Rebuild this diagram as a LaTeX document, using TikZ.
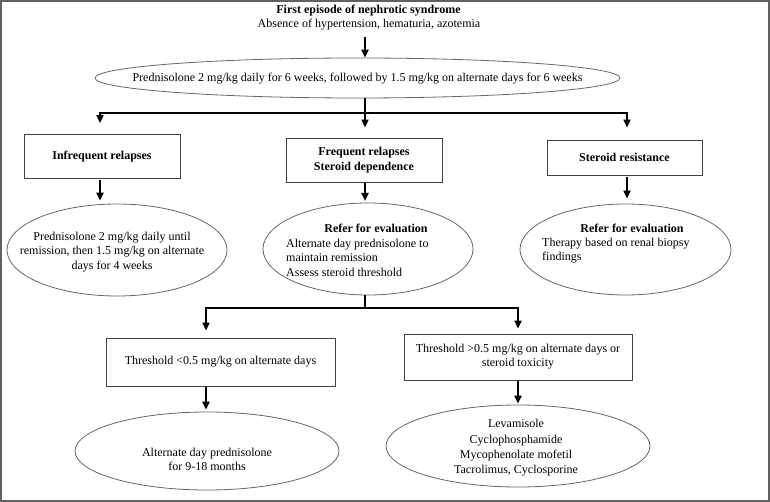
\documentclass[tikz,border=0pt]{standalone}
\usepackage{fontspec}
\setmainfont{Liberation Serif}
\usetikzlibrary{shapes.geometric,arrows.meta}
\begin{document}
\begin{tikzpicture}[x=1pt,y=-1pt,
  every node/.style={font=\fontsize{12}{14.6}\selectfont, inner sep=0pt},
  bold/.style={font=\bfseries\fontsize{12}{14.6}\selectfont},
  boxn/.style={draw=black!75, line width=0.9pt, rectangle, align=center},
  ell/.style={draw=black!60, line width=0.8pt, ellipse},
  conn/.style={line width=2pt, black},
  arr/.style={conn, -{Triangle[length=8pt,width=7pt]}}
]
\useasboundingbox (0,0) rectangle (770,502);
\draw[black!62, line width=2pt] (1,1) rectangle (769,501);

% column coordinates
\coordinate (colA) at (100,0);
\coordinate (colB) at (365,0);
\coordinate (colC) at (627,0);
\coordinate (colD) at (206,0);
\coordinate (colE) at (518,0);
\coordinate (j1) at (365,113);
\coordinate (j2) at (365,308);
\coordinate (a2s) at (365,183);
\coordinate (a2e) at (365,201);

% header
\node[bold] (t1) at (368.5,11) {First episode of nephrotic syndrome};
\node (t2) at (369,25) {Absence of hypertension, hematuria, azotemia};

% first ellipse
\node[ell, minimum width=525, minimum height=40] (e1) at (357.5,78) {};
\node (e1t) at (357.5,79) {Prednisolone 2 mg/kg daily for 6 weeks, followed by 1.5 mg/kg on alternate days for 6 weeks};

% boxes row 1
\node[boxn, bold, minimum width=156, minimum height=44] (b1) at (102,156.5) {Infrequent relapses};
\node[boxn, bold, minimum width=156, minimum height=44] (b2) at (364,160) {Frequent relapses\\Steroid dependence};
\node[boxn, bold, minimum width=155, minimum height=35] (b3) at (624.5,157.5) {Steroid resistance};

% ellipses row 2
\node[ell, minimum width=220, minimum height=92] (e2) at (117,250) {};
\node[align=center] (e2t) at (112,252) {Prednisolone 2 mg/kg daily until\\remission, then 1.5 mg/kg on alternate\\days for 4 weeks};

\node[ell, minimum width=210, minimum height=92] (e3) at (368,249) {};
\node[bold] (e3h) at (376,228) {Refer for evaluation};
\node[align=left, anchor=west] (e3t) at (286,257.5) {Alternate day prednisolone to\\maintain remission\\Assess steroid threshold};

\node[ell, minimum width=211, minimum height=91] (e4) at (625.5,249.5) {};
\node[bold] (e4h) at (632,228) {Refer for evaluation};
\node[align=left, anchor=west] (e4t) at (542,250.5) {Therapy based on renal biopsy\\findings};

% boxes row 3
\node[boxn, minimum width=229, minimum height=48] (b4) at (220.5,362) {Threshold <0.5 mg/kg on alternate days};
\node[boxn, minimum width=228, minimum height=46] (b5) at (518,357) {\raisebox{-2.5pt}{\shortstack{Threshold >0.5 mg/kg on alternate days or\\steroid toxicity}}};

% ellipses row 4
\node[ell, minimum width=264, minimum height=78] (e5) at (207,451) {};
\node[align=center] (e5t) at (207,459.5) {Alternate day prednisolone\\for 9-18 months};

\node[ell, minimum width=264, minimum height=82] (e6) at (518,446) {};
\node[align=center, font=\fontsize{12}{15.3}\selectfont] (e6t) at (516,448) {Levamisole\\Cyclophosphamide\\Mycophenolate mofetil\\Tacrolimus, Cyclosporine};

% connectors
\draw[arr] ([yshift=-6.5pt]t2.south -| colB) -- (e1.north -| colB);
\draw[conn] (e1.south -| colB) -- (j1);
\draw[arr, shorten >=10pt] (j1) -- (b2.north -| colB);
\draw[arr, shorten >=11pt] (j1) -| (b1.north -| colA);
\draw[arr, shorten >=12pt] (j1) -| (b3.north -| colC);

\draw[arr] ([yshift=-1pt]b1.south -| colA) -- ([yshift=3pt]e2.north -| colA);
\draw[arr] (a2s) -- (a2e);
\draw[arr] ([yshift=-2pt]b3.south -| colC) -- ([yshift=5pt]e4.north -| colC);

\draw[conn] (e3.south -| colB) -- (j2);
\draw[arr, shorten >=7pt] (j2) -| (b4.north -| colD);
\draw[arr, shorten >=5pt] (j2) -| (b5.north -| colE);

\draw[arr] ([yshift=-1pt]b4.south -| colD) -- ([yshift=2pt]e5.north -| colD);
\draw[arr, shorten <=1pt, shorten >=1pt] (b5) -- (e6);
\end{tikzpicture}
\end{document}
